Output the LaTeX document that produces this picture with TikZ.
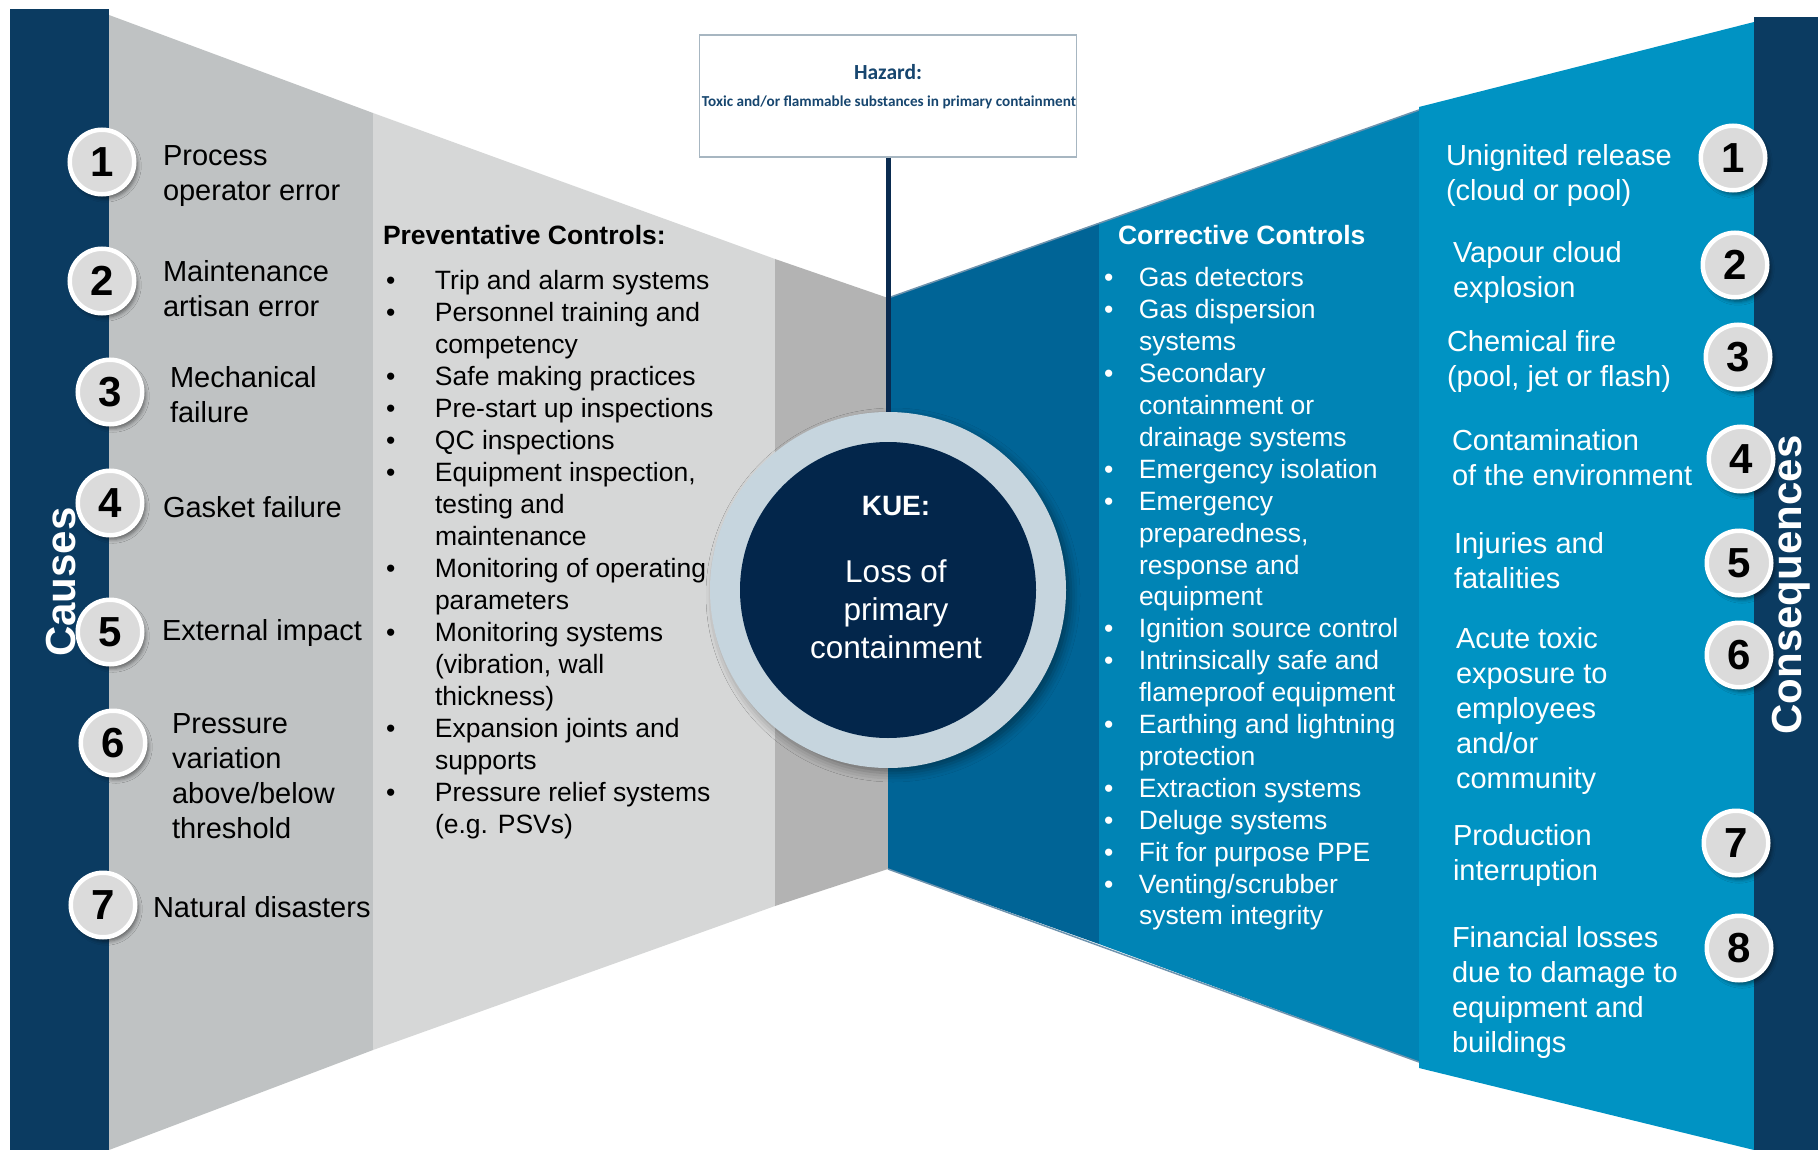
\documentclass[tikz,border=0pt]{standalone}
\usepackage{fontspec}
\setmainfont{Liberation Sans}
\newfontfamily\hazfont{Carlito}
\usetikzlibrary{shadows.blur}

\definecolor{barnavy}{HTML}{0B3B61}
\definecolor{grayout}{HTML}{BFC2C3}
\definecolor{graylight}{HTML}{D6D7D7}
\definecolor{graymid}{HTML}{B3B3B3}
\definecolor{bluedark}{HTML}{006496}
\definecolor{bluecorr}{HTML}{0084B5}
\definecolor{bluecons}{HTML}{0093C3}
\definecolor{ringcol}{HTML}{C6D5DE}
\definecolor{kuenavy}{HTML}{03264B}
\definecolor{numfill}{HTML}{DBDBDB}
\definecolor{hazblue}{HTML}{17466F}
\definecolor{hazedge}{HTML}{A7B6C1}
\definecolor{edgeline}{HTML}{6E93AE}
\definecolor{connav}{HTML}{0A2B50}

% stacked lines whose first baseline is the node's base
\newcommand{\rows}[1]{\begin{tabular}[t]{@{}l@{}}#1\end{tabular}}
\newcommand{\pbul}{\makebox[49pt][l]{\textbullet}}
\newcommand{\pind}{\hspace*{49pt}}
\newcommand{\cbul}{\makebox[35pt][l]{\textbullet}}
\newcommand{\cind}{\hspace*{35pt}}

\begin{document}
\begin{tikzpicture}[x=1pt,y=-1pt,
  txt/.style={anchor=base west, inner sep=0pt, outer sep=0pt},
  cause/.style={txt, font=\fontsize{29}{35}\selectfont, text=black},
  cons/.style={txt, font=\fontsize{29}{35}\selectfont, text=white},
  ctl/.style={txt, font=\fontsize{26.5}{32}\selectfont},
  ctltitle/.style={txt, font=\fontsize{26.5}{32}\selectfont\bfseries},
  sidetitle/.style={rotate=90, anchor=base, inner sep=0pt, text=white,
    font=\fontsize{42}{42}\selectfont\bfseries},
  numc/.style={circle, fill=numfill, draw=white, line width=4.5pt,
    minimum size=64.5pt, inner sep=0pt, text=black,
    font=\fontsize{42}{42}\selectfont\bfseries,
    blur shadow={shadow xshift=3pt, shadow yshift=-4pt,
      shadow blur radius=4pt, shadow opacity=50}},
]
\useasboundingbox (0,0) rectangle (1818,1150);
\fill[white] (0,0) rectangle (1818,1150);

% ---- left wing: causes and preventative controls
\fill[barnavy] (10,9) rectangle (109,1150);
\fill[grayout] (109,15) -- (373,113) -- (373,1050) -- (109,1150) -- cycle;
\fill[graylight] (373,113) -- (775,259) -- (775,906) -- (373,1050) -- cycle;
\fill[graymid] (775,259) -- (888,298) -- (888,869) -- (775,906) -- cycle;

% ---- right wing: corrective controls and consequences
\fill[bluedark] (888,298) -- (1099,223) -- (1099,944) -- (888,869) -- cycle;
\fill[bluecorr] (1099,223) -- (1419,110) -- (1419,1062) -- (1099,944) -- cycle;
\draw[edgeline, line width=1.5pt] (888,298) -- (1419,110);
\draw[edgeline, line width=1.5pt] (888,869) -- (1419,1062);
\fill[bluecons] (1419,107) -- (1754,22) -- (1754,1150) -- (1419,1068) -- cycle;
\fill[barnavy] (1754,17) rectangle (1818,1150);

% ---- side titles
\node[sidetitle] (causes) at (75,582) {Causes};
\node[sidetitle] (consequences) at (1801,585) {Consequences};

% ---- hazard box, connector and central event
\node[draw=hazedge, line width=1.5pt, fill=white, minimum width=377pt,
  minimum height=122pt, inner sep=0pt] (hazard) at (888,96) {};
\node[anchor=base, inner sep=0pt, text=hazblue,
  font=\hazfont\bfseries\fontsize{21.5}{21.5}\selectfont] (hazardtitle) at (888,80) {Hazard:};
\node[anchor=base, inner sep=0pt, text=hazblue,
  font=\hazfont\bfseries\fontsize{15.2}{15.2}\selectfont] (hazardtext) at (889,107)
  {Toxic and/or flammable substances in primary containment};

\node[circle, fill=ringcol, minimum size=356pt, inner sep=0pt,
  blur shadow={shadow xshift=5pt, shadow yshift=-5pt,
    shadow blur radius=9pt, shadow opacity=40}] (kue) at (888,590) {};
\fill[kuenavy] (kue.center) circle (148);
\draw[connav, line width=5pt] (hazard) -- (kue);
\node[anchor=base, inner sep=0pt, text=white,
  font=\fontsize{31.5}{38}\selectfont] (kuetext) at (896,515)
  {\begin{tabular}[t]{@{}c@{}}{\fontsize{28}{38}\selectfont\bfseries KUE:}\\[29pt]
   Loss of\\ primary\\ containment\end{tabular}};

% ---- causes
\node[numc] (n1) at (102,162) {1};
\node[numc] (n2) at (102,281) {2};
\node[numc] (n3) at (110,392) {3};
\node[numc] (n4) at (110,503) {4};
\node[numc] (n5) at (110,632) {5};
\node[numc] (n6) at (113,743) {6};
\node[numc] (n7) at (103,905) {7};

\node[cause] (c1) at (163,166) {\rows{Process\\ operator error}};
\node[cause] (c2) at (163,282) {\rows{Maintenance\\ artisan error}};
\node[cause] (c3) at (170,387) {\rows{Mechanical\\ failure}};
\node[cause] (c4) at (163,517) {Gasket failure};
\node[cause] (c5) at (162,640) {External impact};
\node[cause] (c6) at (172,733) {\rows{Pressure\\ variation\\ above/below\\ threshold}};
\node[cause] (c7) at (153,917) {Natural disasters};

% ---- preventative controls
\node[ctltitle, text=black] (prevtitle) at (383,245) {Preventative Controls:};
\node[ctl, text=black] (prevlist) at (386,290) {\rows{%
\pbul Trip and alarm systems\\
\pbul Personnel training and\\
\pind competency\\
\pbul Safe making practices\\
\pbul Pre-start up inspections\\
\pbul QC inspections\\
\pbul Equipment inspection,\\
\pind testing and\\
\pind maintenance\\
\pbul Monitoring of operating\\
\pind parameters\\
\pbul Monitoring systems\\
\pind (vibration, wall\\
\pind thickness)\\
\pbul Expansion joints and\\
\pind supports\\
\pbul Pressure relief systems\\
\pind (e.g. PSVs)}};

% ---- corrective controls
\node[ctltitle, text=white] (corrtitle) at (1118,245) {Corrective Controls};
\node[ctl, text=white, font=\fontsize{26.5}{31.9}\selectfont] (corrlist) at (1104,287) {\rows{%
\cbul Gas detectors\\
\cbul Gas dispersion\\
\cind systems\\
\cbul Secondary\\
\cind containment or\\
\cind drainage systems\\
\cbul Emergency isolation\\
\cbul Emergency\\
\cind preparedness,\\
\cind response and\\
\cind equipment\\
\cbul Ignition source control\\
\cbul Intrinsically safe and\\
\cind flameproof equipment\\
\cbul Earthing and lightning\\
\cind protection\\
\cbul Extraction systems\\
\cbul Deluge systems\\
\cbul Fit for purpose PPE\\
\cbul Venting/scrubber\\
\cind system integrity}};

% ---- consequences
\node[numc] (m1) at (1733,158) {1};
\node[numc] (m2) at (1735,265) {2};
\node[numc] (m3) at (1738,357) {3};
\node[numc] (m4) at (1741,459) {4};
\node[numc] (m5) at (1739,563) {5};
\node[numc] (m6) at (1739,655) {6};
\node[numc] (m7) at (1736,843) {7};
\node[numc] (m8) at (1739,948) {8};

\node[cons] (q1) at (1446,166) {\rows{Unignited release\\ (cloud or pool)}};
\node[cons] (q2) at (1453,263) {\rows{Vapour cloud\\ explosion}};
\node[cons] (q3) at (1447,352) {\rows{Chemical fire\\ (pool, jet or flash)}};
\node[cons] (q4) at (1452,450) {\rows{Contamination\\ of the environment}};
\node[cons] (q5) at (1454,553) {\rows{Injuries and\\ fatalities}};
\node[cons] (q6) at (1456,648) {\rows{Acute toxic\\ exposure to\\ employees\\ and/or\\ community}};
\node[cons] (q7) at (1453,845) {\rows{Production\\ interruption}};
\node[cons] (q8) at (1452,947) {\rows{Financial losses\\ due to damage to\\ equipment and\\ buildings}};
\end{tikzpicture}
\end{document}
